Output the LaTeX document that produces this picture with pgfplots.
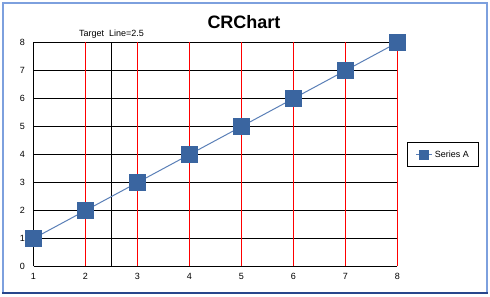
\documentclass[border=0pt]{standalone}
\usepackage{pgfplots}
\pgfplotsset{compat=1.18}
\usepackage{fontspec}
\setmainfont{Liberation Sans}
\definecolor{serA}{RGB}{58,101,160}
\definecolor{serAline}{RGB}{91,128,184}
\definecolor{frameblue}{RGB}{125,160,222}
\definecolor{framedark}{RGB}{40,70,140}
\definecolor{gridred}{RGB}{255,0,0}
\begin{document}
\begin{tikzpicture}
\useasboundingbox (0,0) rectangle (490pt,297pt);
\fill[white] (0,0) rectangle (490pt,297pt);
\begin{axis}[
  at={(33.5pt,30.5pt)}, anchor=south west,
  scale only axis, width=364pt, height=224pt,
  xmin=1, xmax=8, ymin=0, ymax=8,
  xtick={1,2,3,4,5,6,7,8}, ytick={0,1,2,3,4,5,6,7,8},
  axis line style={draw=none},
  tick style={draw=none},
  major tick length=0pt,
  /pgf/number format/assume math mode=true,
  ticklabel style={font=\fontsize{9}{10}\selectfont},
  xticklabel style={yshift=-3pt},
  yticklabel style={xshift=-5pt},
  clip=false,
  legend style={at={(1.0274,0.5536)}, anchor=north west, draw=black, line width=1pt,
    font=\fontsize{9}{10}\selectfont, inner xsep=8pt, inner ysep=5.5pt},
  legend image code/.code={
    \draw[serAline, line width=1pt] (0pt,0pt) -- (16pt,0pt);
    \fill[serA] (3.5pt,-4.5pt) rectangle (12.5pt,4.5pt);
  },
]
\pgfplotsinvokeforeach{0,1,2,3,4,5,6,7,8}{
  \draw[black, line width=1pt] (axis cs:1,#1) -- (axis cs:8,#1);
}
\pgfplotsinvokeforeach{2,3,4,5,6,7,8}{
  \draw[gridred, line width=1pt] (axis cs:#1,0) -- (axis cs:#1,8);
}
\draw[black, line width=1pt] (axis cs:1,0) -- (axis cs:1,8);
\draw[black, line width=1pt] (axis cs:2.5,0) -- (axis cs:2.5,8);
\node[anchor=base, inner sep=0pt, font=\fontsize{9}{10}\selectfont, yshift=6pt] at (axis cs:2.5,8) {Target\ \ Line=2.5};
\addplot[serAline, line width=1pt, mark=square*, mark size=8pt,
  mark options={fill=serA, draw=serA, line width=0pt}] coordinates {
  (1,1) (2,2) (3,3) (4,4) (5,5) (6,6) (7,7) (8,8)
};
\addlegendentry{Series A}
\end{axis}
\node[font=\bfseries\fontsize{18}{20}\selectfont] at (244pt,275pt) {CRChart};
\draw[frameblue, line width=2pt] (3pt,4pt) -- (3pt,294pt) -- (487pt,294pt) -- (487pt,4pt);
\draw[framedark, line width=2pt] (2pt,4pt) -- (488pt,4pt);
\end{tikzpicture}
\end{document}
